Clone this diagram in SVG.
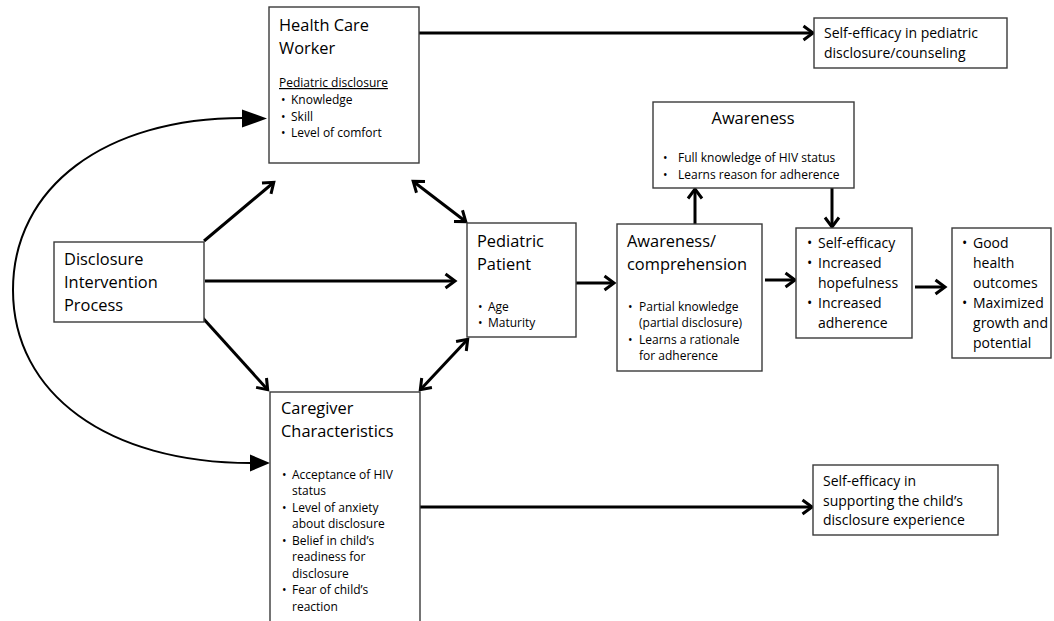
<svg xmlns="http://www.w3.org/2000/svg" width="1054" height="621" viewBox="0 0 1054 621">
<defs>
<style>
text{font-family:"Open Sans","Liberation Sans",sans-serif;fill:#000}
.box{fill:#fff;stroke:#3a3a3a;stroke-width:1.4}
.t{font-size:16.4px}
.m{font-size:14px}
.s{font-size:12px}
.u{text-decoration:underline}
.arr{fill:none;stroke:#000;stroke-width:3}
.curve{fill:none;stroke:#000;stroke-width:2}
</style>
<marker id="oa" markerUnits="userSpaceOnUse" markerWidth="18" markerHeight="18" viewBox="-2 -2 18 18" refX="9.5" refY="7" orient="auto-start-reverse">
<path d="M1,0 L10.5,7 L1,14" fill="none" stroke="#000" stroke-width="3"/>
</marker>
</defs>
<rect width="1054" height="621" fill="#fff"/>

<g id="connectors">
<line class="arr" x1="419" y1="33" x2="812" y2="33" marker-end="url(#oa)"/>
<line class="arr" x1="420" y1="507" x2="811" y2="507" marker-end="url(#oa)"/>
<line class="arr" x1="204" y1="241" x2="273" y2="183" marker-end="url(#oa)"/>
<line class="arr" x1="205" y1="281" x2="454" y2="281" marker-end="url(#oa)"/>
<line class="arr" x1="201" y1="316" x2="267" y2="389" marker-end="url(#oa)"/>
<line class="arr" x1="414" y1="182" x2="465" y2="221" marker-start="url(#oa)" marker-end="url(#oa)"/>
<line class="arr" x1="421" y1="389" x2="467" y2="340" marker-start="url(#oa)" marker-end="url(#oa)"/>
<line class="arr" x1="576" y1="283" x2="613" y2="283" marker-end="url(#oa)"/>
<line class="arr" x1="695" y1="224" x2="695" y2="190" marker-end="url(#oa)"/>
<line class="arr" x1="832" y1="188" x2="832" y2="226" marker-end="url(#oa)"/>
<line class="arr" x1="765" y1="280" x2="794" y2="280" marker-end="url(#oa)"/>
<line class="arr" x1="915" y1="287" x2="944" y2="287" marker-end="url(#oa)"/>
<path class="curve" d="M243,118 C105,118 13,187 13,290 C13,394 108,463 251,463"/>
<polygon points="242,109.5 267,118.5 242,127.5" fill="#000"/>
<polygon points="250,454.5 270,463 250,471.5" fill="#000"/>
</g>

<g id="hcw">
<rect class="box" x="269" y="7" width="150" height="156"/>
<text class="t" x="279" y="31">Health Care</text>
<text class="t" x="279" y="54">Worker</text>
<text class="s u" x="279" y="87">Pediatric disclosure</text>
<text class="s" y="104"><tspan x="281">•</tspan><tspan x="291">Knowledge</tspan></text>
<text class="s" y="121"><tspan x="281">•</tspan><tspan x="291">Skill</tspan></text>
<text class="s" y="137"><tspan x="281">•</tspan><tspan x="291">Level of comfort</tspan></text>
</g>

<g id="se-top">
<rect class="box" x="814" y="18" width="193" height="50"/>
<text class="m" x="824" y="38">Self-efficacy in pediatric</text>
<text class="m" x="824" y="58">disclosure/counseling</text>
</g>

<g id="dip">
<rect class="box" x="54" y="242" width="150" height="80"/>
<text class="t" x="64" y="265">Disclosure</text>
<text class="t" x="64" y="288">Intervention</text>
<text class="t" x="64" y="311">Process</text>
</g>

<g id="awareness">
<rect class="box" x="653" y="102" width="201" height="86"/>
<text class="t" x="753" y="124" text-anchor="middle">Awareness</text>
<text class="s" y="162"><tspan x="663">•</tspan><tspan x="678">Full knowledge of HIV status</tspan></text>
<text class="s" y="179"><tspan x="663">•</tspan><tspan x="678">Learns reason for adherence</tspan></text>
</g>

<g id="patient">
<rect class="box" x="467" y="223" width="109" height="114"/>
<text class="t" x="477" y="247">Pediatric</text>
<text class="t" x="477" y="270">Patient</text>
<text class="s" y="311"><tspan x="478">•</tspan><tspan x="488">Age</tspan></text>
<text class="s" y="327"><tspan x="478">•</tspan><tspan x="488">Maturity</tspan></text>
</g>

<g id="comprehension">
<rect class="box" x="617" y="224" width="145" height="147"/>
<text class="t" x="627" y="247">Awareness/</text>
<text class="t" x="627" y="270">comprehension</text>
<text class="s" y="311"><tspan x="628">•</tspan><tspan x="639">Partial knowledge</tspan></text>
<text class="s" x="639" y="327">(partial disclosure)</text>
<text class="s" y="344"><tspan x="628">•</tspan><tspan x="639">Learns a rationale</tspan></text>
<text class="s" x="639" y="360">for adherence</text>
</g>

<g id="self-efficacy">
<rect class="box" x="796" y="228" width="116" height="110"/>
<text class="m" y="248"><tspan x="807">•</tspan><tspan x="818">Self-efficacy</tspan></text>
<text class="m" y="268"><tspan x="807">•</tspan><tspan x="818">Increased</tspan></text>
<text class="m" x="818" y="288">hopefulness</text>
<text class="m" y="308"><tspan x="807">•</tspan><tspan x="818">Increased</tspan></text>
<text class="m" x="818" y="328">adherence</text>
</g>

<g id="outcomes">
<rect class="box" x="952" y="228" width="99" height="130"/>
<text class="m" y="248"><tspan x="962">•</tspan><tspan x="973">Good</tspan></text>
<text class="m" x="973" y="268">health</text>
<text class="m" x="973" y="288">outcomes</text>
<text class="m" y="308"><tspan x="962">•</tspan><tspan x="973">Maximized</tspan></text>
<text class="m" x="973" y="328" textLength="75" lengthAdjust="spacingAndGlyphs">growth and</text>
<text class="m" x="973" y="348">potential</text>
</g>

<g id="caregiver">
<rect class="box" x="270" y="392" width="150" height="240"/>
<text class="t" x="281" y="414">Caregiver</text>
<text class="t" x="281" y="437">Characteristics</text>
<text class="s" y="479"><tspan x="282">•</tspan><tspan x="292">Acceptance of HIV</tspan></text>
<text class="s" x="292" y="495">status</text>
<text class="s" y="512"><tspan x="282">•</tspan><tspan x="292">Level of anxiety</tspan></text>
<text class="s" x="292" y="528">about disclosure</text>
<text class="s" y="545"><tspan x="282">•</tspan><tspan x="292">Belief in child’s</tspan></text>
<text class="s" x="292" y="561">readiness for</text>
<text class="s" x="292" y="578">disclosure</text>
<text class="s" y="594"><tspan x="282">•</tspan><tspan x="292">Fear of child’s</tspan></text>
<text class="s" x="292" y="611">reaction</text>
</g>

<g id="se-bottom">
<rect class="box" x="813" y="465" width="185" height="70"/>
<text class="m" x="823" y="486">Self-efficacy in</text>
<text class="m" x="823" y="506">supporting the child’s</text>
<text class="m" x="823" y="525">disclosure experience</text>
</g>
</svg>
